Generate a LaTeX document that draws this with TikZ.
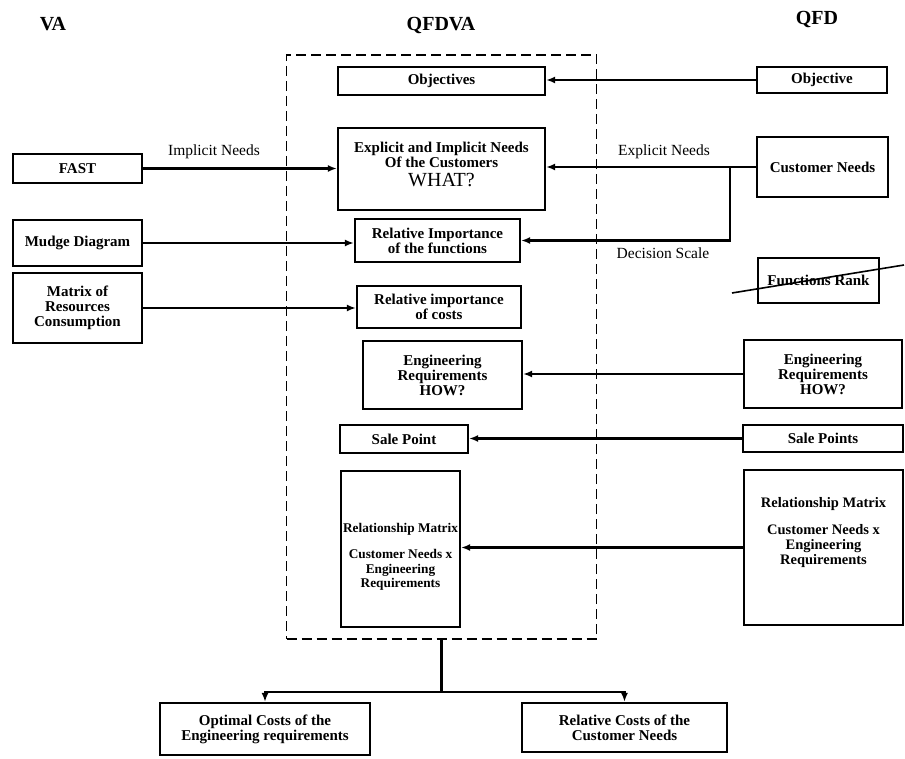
\documentclass[tikz,border=0pt]{standalone}
\usepackage{fontspec}
\setmainfont{Liberation Serif}
\usetikzlibrary{arrows.meta}

\tikzset{
  box/.style={draw, line width=2.2pt, inner sep=0pt, align=center,
    font=\bfseries\fontsize{15}{15}\selectfont},
  boxtext/.style={inner sep=0pt, align=center, font=\bfseries\fontsize{15}{15}\selectfont},
  lbl/.style={inner sep=0pt, font=\fontsize{15.5}{16}\selectfont},
  title/.style={inner sep=0pt, font=\bfseries\fontsize{20}{20}\selectfont},
  link/.style={line width=2.2pt, -{Latex[length=9pt,width=7pt]}},
  plain/.style={line width=2.2pt},
  frame/.style={draw, dash pattern=on 10pt off 5pt, line width=1.6pt, inner sep=0pt}
}

\newcommand{\bx}[6]{% name, cx, cy, width, height, text
  \node[box, minimum width=#4pt, minimum height=#5pt] (#1) at (#2pt,-#3pt) {#6};}

\begin{document}
\begin{tikzpicture}
\useasboundingbox (0,0) rectangle (905pt,-759pt);

% column titles
\node[title] (tva) at (53pt,-24pt) {VA};
\node[title] (tqfdva) at (441pt,-26pt) {QFDVA};
\node[title] (tqfd) at (817pt,-20pt) {QFD};

% dashed frame around the combined method
\node[frame, minimum width=310pt, minimum height=584pt] (frame) at (441.5pt,-347pt) {};

% middle column
\bx{obj}{441.5}{81}{207}{28}{Objectives}
\bx{explicit}{441.5}{169}{207}{82}{}
\node[boxtext, anchor=base] (expA) at (441.5pt,-153pt) {Explicit and Implicit Needs};
\node[boxtext, anchor=base] (expB) at (441.5pt,-168pt) {Of the Customers};
\node[anchor=base, inner sep=0pt, font=\fontsize{20}{20}\selectfont] (expC) at (441.5pt,-187pt) {WHAT?};
\bx{relfun}{437.5}{240.5}{165}{43}{Relative Importance\\of the functions}
\bx{relcost}{439}{307}{164}{42}{Relative importance\\of costs}
\bx{engL}{442.5}{375}{159}{68}{Engineering\\Requirements\\HOW?}
\bx{saleL}{404}{439}{128}{28}{Sale Point}
\bx{relmatL}{400.5}{549}{119}{156}{}
\node[boxtext, font=\bfseries\fontsize{13.3}{14.5}\selectfont] (relmatLtxt) at (400.5pt,-557pt)
  {Relationship Matrix\\[12pt]Customer Needs x\\Engineering\\Requirements};

% left column (VA)
\bx{fast}{77.5}{168.5}{129}{29}{FAST}
\bx{mudge}{77.5}{243}{129}{46}{Mudge Diagram}
\bx{matrix}{77.5}{308}{129}{70}{Matrix of\\Resources\\Consumption}

% right column (QFD)
\bx{objR}{822}{80}{130}{26}{Objective}
\bx{custR}{822.5}{167}{131}{60}{Customer Needs}
\bx{rank}{818.5}{280.5}{121}{45}{Functions Rank}
\draw[line width=1.6pt] (732pt,-293pt) coordinate (strikeA) -- (904pt,-265pt) coordinate (strikeB);
\bx{engR}{823}{374}{158}{68}{Engineering\\Requirements\\HOW?}
\bx{saleR}{823}{438.5}{160}{27}{Sale Points}
\bx{relmatR}{823.5}{547.5}{159}{155}{}
\node[boxtext, anchor=north, font=\bfseries\fontsize{14.5}{15}\selectfont] (relmatRtxt) at (823.5pt,-497pt)
  {Relationship Matrix\\[12pt]Customer Needs x\\Engineering\\Requirements};

% results below the frame
\bx{opt}{265}{729}{210}{52}{Optimal Costs of the\\Engineering requirements}
\bx{relcostB}{624.5}{727.5}{205}{49}{Relative Costs of the\\Customer Needs}

% connectors into the combined method
\draw[link] (objR.west) -- (obj.east |- objR.west);
\draw[link] (fast.east) -- (explicit.west |- fast.east);
\draw[link] (custR.west) -- (explicit.east |- custR.west);
\coordinate (branch) at (730pt,-167pt);
\draw[link] (branch) |- (relfun.east);
\draw[link] (mudge.east) -- (relfun.west |- mudge.east);
\draw[link] (matrix.east) -- (relcost.west |- matrix.east);
\draw[link] (engR.west) -- (engL.east |- engR.west);
\draw[link] (saleR.west) -- (saleL.east |- saleR.west);
\draw[link] (relmatR.west) -- (relmatL.east |- relmatR.west);

% connector labels
\node[lbl] (limp) at (214pt,-152pt) {Implicit Needs};
\node[lbl] (lexp) at (664pt,-152pt) {Explicit Needs};
\node[lbl] (ldec) at (663pt,-253pt) {Decision Scale};

% split from the frame to the two results
\draw[plain] (frame.south) -- ++(0,-52pt) coordinate (split);
\draw[link] (split) -| (opt.north);
\draw[link] (split) -| (relcostB.north);
\end{tikzpicture}
\end{document}
